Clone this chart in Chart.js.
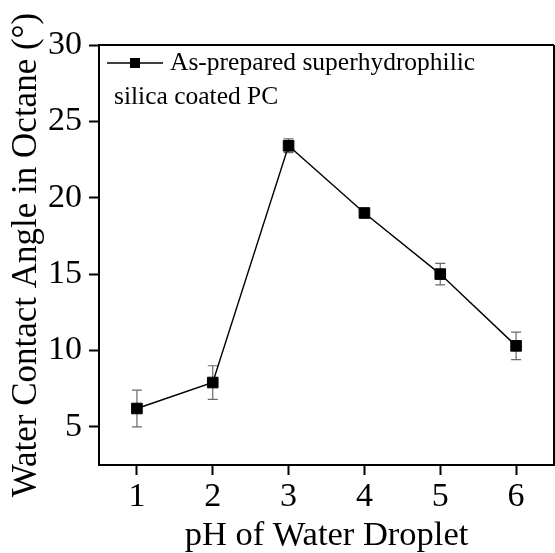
<!DOCTYPE html>
<html>
<head>
<meta charset="utf-8">
<script src="https://cdn.jsdelivr.net/npm/chart.js@4.4.1/dist/chart.umd.min.js"></script>
<style>
  html, body { margin: 0; padding: 0; background: #ffffff; overflow: hidden; }
  #wrap { width: 555px; height: 553px; }
</style>
</head>
<body>
<div id="wrap"><canvas id="c" width="555" height="553"></canvas></div>
<script>
// ---- data ----
const phValues = [1, 2, 3, 4, 5, 6];
const contactAngle = [6.2, 7.9, 23.4, 19.0, 15.0, 10.3];
const angleError = [1.2, 1.1, 0.45, 0.2, 0.7, 0.9];
const xTickValues = [1, 2, 3, 4, 5, 6];
const yTickValues = [5, 10, 15, 20, 25, 30];
const seriesName = ['As-prepared superhydrophilic', 'silica coated PC'];
const xTitle = 'pH of Water Droplet';
const yTitle = 'Water Contact Angle in Octane (\u00B0)';

const FONT = '"Liberation Serif", "Times New Roman", serif';

const points = phValues.map((x, i) => ({ x: x, y: contactAngle[i] }));

const errorBars = {
  id: 'errorBars',
  beforeDatasetsDraw(chart) {
    const ctx = chart.ctx;
    const xs = chart.scales.x, ys = chart.scales.y;
    ctx.save();
    ctx.strokeStyle = '#6a6a6a';
    ctx.lineWidth = 1.2;
    phValues.forEach((v, i) => {
      const px = xs.getPixelForValue(v);
      const top = ys.getPixelForValue(contactAngle[i] + angleError[i]);
      const bot = ys.getPixelForValue(contactAngle[i] - angleError[i]);
      ctx.beginPath();
      ctx.moveTo(px, top); ctx.lineTo(px, bot);
      ctx.moveTo(px - 5, top); ctx.lineTo(px + 5, top);
      ctx.moveTo(px - 5, bot); ctx.lineTo(px + 5, bot);
      ctx.stroke();
    });
    ctx.restore();
  }
};

const frameAndLegend = {
  id: 'frameAndLegend',
  afterDraw(chart) {
    const ctx = chart.ctx;
    const a = chart.chartArea;
    ctx.save();
    ctx.strokeStyle = '#000';
    ctx.lineWidth = 2;
    ctx.beginPath();
    ctx.moveTo(a.left, a.top); ctx.lineTo(a.right, a.top);
    ctx.moveTo(a.right, a.top); ctx.lineTo(a.right, a.bottom);
    ctx.stroke();
    // legend
    const ly = a.top + 18;
    ctx.lineWidth = 1.5;
    ctx.beginPath();
    ctx.moveTo(a.left + 8, ly); ctx.lineTo(a.left + 64, ly);
    ctx.stroke();
    ctx.fillStyle = '#000';
    ctx.fillRect(a.left + 31, ly - 5, 10, 10);
    ctx.font = '25.5px ' + FONT;
    ctx.textBaseline = 'middle';
    ctx.textAlign = 'left';
    ctx.fillText(seriesName[0], a.left + 71, ly);
    ctx.fillText(seriesName[1], a.left + 15, ly + 34);
    ctx.restore();
  }
};

new Chart(document.getElementById('c'), {
  type: 'line',
  data: {
    datasets: [{
      label: seriesName.join(' '),
      data: points,
      borderColor: '#000',
      borderWidth: 1.4,
      backgroundColor: '#000',
      pointStyle: 'rect',
      pointRadius: 7.5,
      pointBorderWidth: 1,
      pointBorderColor: '#000',
      pointBackgroundColor: '#000',
      tension: 0
    }]
  },
  options: {
    responsive: false,
    animation: false,
    layout: { autoPadding: false, padding: { top: 45, right: 1, left: 0, bottom: 0 } },
    plugins: { legend: { display: false }, tooltip: { enabled: false } },
    scales: {
      x: {
        type: 'linear',
        min: 0.5, max: 6.5,
        afterBuildTicks(s) { s.ticks = xTickValues.map(v => ({ value: v })); },
        afterFit(s) { s.height = 88; s.paddingLeft = 0; s.paddingRight = 0; },
        grid: { display: true, drawOnChartArea: false, drawTicks: true, tickLength: 10, tickWidth: 2, tickColor: '#000' },
        border: { display: true, color: '#000', width: 2 },
        ticks: { color: '#000', padding: 2, font: { family: FONT, size: 34 }, maxRotation: 0 },
        title: { display: true, text: xTitle, color: '#000', font: { family: FONT, size: 34.5, lineHeight: 1.0 }, padding: { top: 0, bottom: 0 } }
      },
      y: {
        type: 'linear',
        min: 2.5, max: 30,
        afterBuildTicks(s) { s.ticks = yTickValues.map(v => ({ value: v })); },
        afterFit(s) { s.width = 99; s.paddingTop = 0; s.paddingBottom = 0; },
        grid: { display: true, drawOnChartArea: false, drawTicks: true, tickLength: 10, tickWidth: 2, tickColor: '#000' },
        border: { display: true, color: '#000', width: 2 },
        ticks: { color: '#000', padding: 7, font: { family: FONT, size: 34 } },
        title: { display: true, text: yTitle, color: '#000', font: { family: FONT, size: 35, lineHeight: 1.0 }, padding: { top: 9, bottom: 0 } }
      }
    }
  },
  plugins: [errorBars, frameAndLegend]
});
</script>
</body>
</html>
